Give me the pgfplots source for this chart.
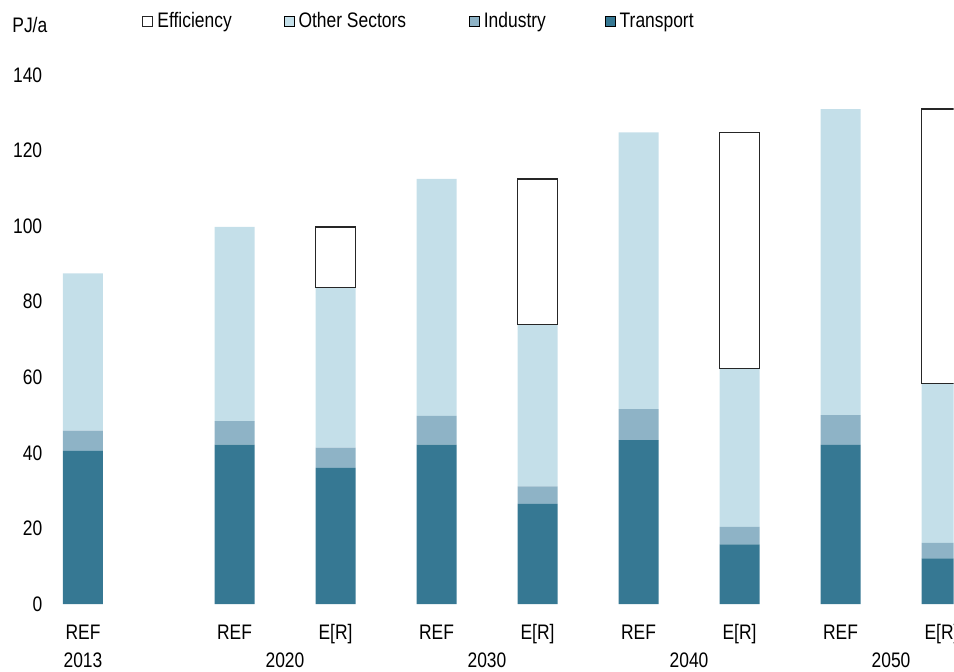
\documentclass[border=0pt]{standalone}
\usepackage{pgfplots}
\pgfplotsset{compat=1.18}
\usepackage{fontspec}
\setmainfont{Liberation Sans}[FakeStretch=0.83]
\definecolor{transport}{HTML}{367893}
\definecolor{industry}{HTML}{8EB3C6}
\definecolor{other}{HTML}{C4DFE9}
\pgfplotsset{geom/.style={anchor=origin, at={(0pt,0pt)},
  x=50.5pt, y=1.8893pt,
  xmin=-0.4, xmax=8.62, ymin=0, ymax=140,
  ybar stacked, bar width=20pt}}
\begin{document}
\fontsize{10.5}{12}\selectfont
\begin{tikzpicture}
\begin{axis}[
  geom,
  axis line style={draw=none}, major tick length=0pt,
  ytick={0,20,...,140},
  yticklabel style={inner sep=0pt},
  xtick={0,1.5,2.5,3.5,4.5,5.5,6.5,7.5,8.5},
  xticklabels={REF,REF,E[R],REF,E[R],REF,E[R],REF,E[R]},
  xticklabel style={anchor=base, yshift=-17.75pt},
  extra x ticks={0,2,4,6,8},
  extra x tick labels={2013,2020,2030,2040,2050},
  extra x tick style={xticklabel style={yshift=-14pt}},
  /pgf/number format/assume math mode=true,
  legend columns=4,
  legend image code/.code={\draw[#1] (0pt,-2.5pt) rectangle (5pt,2.5pt);},
  legend style={at={(0.109,1.101)}, anchor=west, draw=none, fill=none,
    inner sep=0pt, nodes={inner sep=0pt},
    /tikz/every odd column/.append style={column sep=2pt},
    /tikz/every even column/.append style={column sep=1pt}},
]
\addlegendimage{draw=black!85, fill=white, line width=0.6pt}
\addlegendentry{Efficiency\rule{25pt}{0pt}}
\addlegendimage{draw=none, fill=other}
\addlegendentry{Other Sectors\rule{30.5pt}{0pt}}
\addlegendimage{draw=none, fill=industry}
\addlegendentry{Industry\rule{28.5pt}{0pt}}
\addlegendimage{draw=none, fill=transport}
\addlegendentry{Transport}
\addplot[fill=transport, draw=none] coordinates {(0,40.5) (1.5,42.2) (2.5,36.0) (3.5,42.2) (4.5,26.5) (5.5,43.4) (6.5,15.8) (7.5,42.1) (8.5,12.1)};
\addplot[fill=industry, draw=none] coordinates {(0,5.4) (1.5,6.2) (2.5,5.4) (3.5,7.6) (4.5,4.6) (5.5,8.2) (6.5,4.6) (7.5,7.9) (8.5,4.1)};
\addplot[fill=other, draw=none] coordinates {(0,41.6) (1.5,51.4) (2.5,42.3) (3.5,62.7) (4.5,42.9) (5.5,73.2) (6.5,42.0) (7.5,81.0) (8.5,42.2)};
\end{axis}
\begin{axis}[geom, hide axis]
\addplot[draw=none, fill=none] coordinates {(2.5,83.7) (4.5,74.0) (6.5,62.4) (8.5,58.4)};
\addplot[fill=white, draw=black!85, line width=0.7pt] coordinates {(2.5,16.1) (4.5,38.5) (6.5,62.4) (8.5,72.6)};
\end{axis}
\node[anchor=west, inner sep=0pt] at (-35.5pt,289.5pt) {PJ/a};
\pgfresetboundingbox
\path[use as bounding box] (-41.5pt,-33.5pt) rectangle (435.5pt,302pt);
\end{tikzpicture}
\end{document}
